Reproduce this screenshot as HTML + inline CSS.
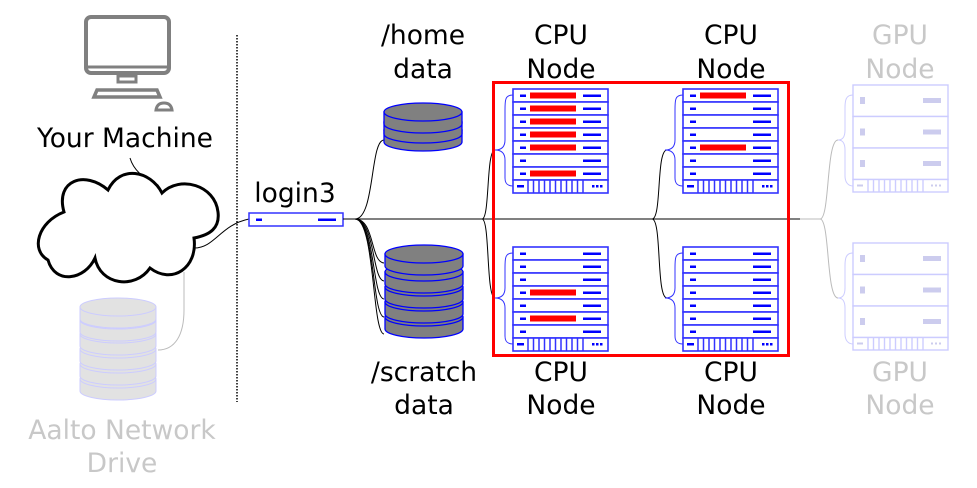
<!DOCTYPE html>
<html><head><meta charset="utf-8"><style>
html,body{margin:0;padding:0;background:#fff;}
svg{display:block;}
text{font-family:"DejaVu Sans","Liberation Sans",sans-serif;font-size:26.5px;text-anchor:middle;}
</style></head><body>
<svg width="977" height="488" viewBox="0 0 977 488" xmlns="http://www.w3.org/2000/svg">
<defs>
<g id="rack">
  <g fill="#fff" stroke="#3333ff" stroke-width="1.6">
  <rect x="0" y="0" width="95" height="13"/>
  <rect x="0" y="13" width="95" height="13"/>
  <rect x="0" y="26" width="95" height="13"/>
  <rect x="0" y="39" width="95" height="13"/>
  <rect x="0" y="52" width="95" height="13"/>
  <rect x="0" y="65" width="95" height="13"/>
  <rect x="0" y="78" width="95" height="13"/>
  <rect x="0" y="91" width="95" height="13"/>
  </g>
  <g fill="#00f">
    <rect x="7" y="5.5" width="6" height="2.5"/><rect x="70" y="5.5" width="18" height="2.5"/>
    <rect x="7" y="18.5" width="6" height="2.5"/><rect x="70" y="18.5" width="18" height="2.5"/>
    <rect x="7" y="31.5" width="6" height="2.5"/><rect x="70" y="31.5" width="18" height="2.5"/>
    <rect x="7" y="44.5" width="6" height="2.5"/><rect x="70" y="44.5" width="18" height="2.5"/>
    <rect x="7" y="57.5" width="6" height="2.5"/><rect x="70" y="57.5" width="18" height="2.5"/>
    <rect x="7" y="70.5" width="6" height="2.5"/><rect x="70" y="70.5" width="18" height="2.5"/>
    <rect x="7" y="83.5" width="6" height="2.5"/><rect x="70" y="83.5" width="18" height="2.5"/>
    <rect x="4" y="96" width="7" height="2.5"/>
    <rect x="79" y="96" width="2.5" height="2.5"/><rect x="83" y="96" width="2.5" height="2.5"/><rect x="87" y="96" width="2.5" height="2.5"/>
  </g>
  <g stroke="#3333ff" stroke-width="1.5">
    <line x1="15" y1="91" x2="15" y2="104"/><line x1="20.5" y1="91" x2="20.5" y2="104"/><line x1="26" y1="91" x2="26" y2="104"/>
    <line x1="31.5" y1="91" x2="31.5" y2="104"/><line x1="37" y1="91" x2="37" y2="104"/><line x1="42.5" y1="91" x2="42.5" y2="104"/>
    <line x1="48" y1="91" x2="48" y2="104"/><line x1="53.5" y1="91" x2="53.5" y2="104"/><line x1="59" y1="91" x2="59" y2="104"/>
    <line x1="64.5" y1="91" x2="64.5" y2="104"/><line x1="70" y1="91" x2="70" y2="104"/>
  </g>
</g>
<g id="gpurack" stroke="#ccccff" stroke-width="1.4">
  <rect x="0" y="0" width="95" height="31.5" fill="#fff"/>
  <rect x="0" y="31.5" width="95" height="31.5" fill="#fff"/>
  <rect x="0" y="63" width="95" height="31.5" fill="#fff"/>
  <rect x="0" y="94.5" width="95" height="12.5" fill="#fff"/>
  <g fill="#ccccee" stroke="none">
    <rect x="7" y="12" width="5" height="7"/><rect x="70" y="13" width="18" height="5"/>
    <rect x="7" y="43.5" width="5" height="7"/><rect x="70" y="44.5" width="18" height="5"/>
    <rect x="7" y="75" width="5" height="7"/><rect x="70" y="76" width="18" height="5"/>
    <rect x="4" y="99.5" width="6" height="2"/><rect x="78" y="99.5" width="2" height="2"/><rect x="82" y="99.5" width="2" height="2"/><rect x="86" y="99.5" width="2" height="2"/>
  </g>
  <g>
    <line x1="15" y1="94.5" x2="15" y2="107"/><line x1="20.5" y1="94.5" x2="20.5" y2="107"/><line x1="26" y1="94.5" x2="26" y2="107"/>
    <line x1="31.5" y1="94.5" x2="31.5" y2="107"/><line x1="37" y1="94.5" x2="37" y2="107"/><line x1="42.5" y1="94.5" x2="42.5" y2="107"/>
    <line x1="48" y1="94.5" x2="48" y2="107"/><line x1="53.5" y1="94.5" x2="53.5" y2="107"/><line x1="59" y1="94.5" x2="59" y2="107"/>
    <line x1="64.5" y1="94.5" x2="64.5" y2="107"/><line x1="70" y1="94.5" x2="70" y2="107"/>
  </g>
</g>
<g id="disk">
  <path d="M-39,0 L-39,12 A39,9 0 0 0 39,12 L39,0 Z" fill="#808080" stroke="#00f" stroke-width="1.3"/>
  <ellipse cx="0" cy="0" rx="39" ry="9" fill="#808080" stroke="#00f" stroke-width="1.3"/>
</g>
<g id="ldisk">
  <path d="M-38,0 L-38,12 A38,9 0 0 0 38,12 L38,0 Z" fill="#e2e2e2" stroke="#ccccff" stroke-width="1"/>
  <ellipse cx="0" cy="0" rx="38" ry="9" fill="#e2e2e2" stroke="#ccccff" stroke-width="1"/>
</g>
</defs>

<line x1="237" y1="35" x2="237" y2="402" stroke="#000" stroke-width="1.5" stroke-dasharray="1.5,1.5"/>

<g stroke="#808080" fill="none" stroke-width="4">
  <rect x="86" y="17" width="83" height="56" rx="5"/>
  <line x1="86" y1="67" x2="169" y2="67" stroke-width="3"/>
  <rect x="118" y="76" width="18" height="6" stroke-width="3"/>
  <path d="M94,97 L97,90 L157,90 L160,97 Z" stroke-width="3.5"/>
  <path d="M156,110 Q157,103 164,103 Q171,103 172,110 Z" stroke-width="3"/>
</g>
<text x="125" y="147">Your Machine</text>

<path d="M130,158 Q135,175 158,185 Q162,190 163,196" fill="none" stroke="#000" stroke-width="1"/>
<path d="M64,212 C55,180 85,170 108,190 C120,165 150,170 162,193 C180,175 215,185 218,212 C220,228 210,235 194,238 C198,268 172,285 150,268 C135,290 100,285 95,258 C85,280 55,285 48,260 C30,250 38,222 64,212 Z" fill="#fff" stroke="#000" stroke-width="3"/>
<path d="M194,248 C215,248 220,225 249,219" fill="none" stroke="#000" stroke-width="1"/>
<path d="M184,272 L184,310 C184,335 175,350 158,350" fill="none" stroke="#bbb" stroke-width="1"/>

<use href="#ldisk" x="118" y="379"/>
<use href="#ldisk" x="118" y="364"/>
<use href="#ldisk" x="118" y="349"/>
<use href="#ldisk" x="118" y="334"/>
<use href="#ldisk" x="118" y="320"/>
<use href="#ldisk" x="118" y="307"/>
<text x="122" y="439" fill="#c8c8c8">Aalto Network</text>
<text x="122" y="472" fill="#c8c8c8">Drive</text>

<text x="295" y="202">login3</text>
<rect x="249" y="213" width="94" height="13" fill="#fff" stroke="#3333ff" stroke-width="1.5"/>
<rect x="256" y="218.5" width="6" height="2.5" fill="#00f"/>
<rect x="318" y="218.5" width="18" height="2.5" fill="#00f"/>

<g fill="none" stroke="#000" stroke-width="1">
  <line x1="343" y1="219" x2="800" y2="219"/>
  <path d="M355,219 C375,219 370,140 384,140"/>
  <path d="M355,219 C375,219 370,262 384,263"/>
  <path d="M355,219 C375,219 372,280 384,281"/>
  <path d="M355,219 C375,219 372,298 384,299"/>
  <path d="M355,219 C375,219 372,316 384,317"/>
  <path d="M355,219 C375,219 372,333 384,334"/>
  <path d="M482,219 C490,219 486,150 495,150"/>
  <path d="M482,219 C490,219 486,298 495,298"/>
  <path d="M652,219 C662,219 656,150 667,150"/>
  <path d="M652,219 C662,219 656,298 667,298"/>
</g>
<g fill="none" stroke="#bbb" stroke-width="1">
  <path d="M800,219 L820,219 C830,219 826,140 838,140"/>
  <path d="M820,219 C830,219 826,298 838,298"/>
</g>

<use href="#disk" x="423" y="130"/>
<use href="#disk" x="423" y="122"/>
<use href="#disk" x="423" y="112"/>
<text x="423" y="44">/home</text>
<text x="423" y="78">data</text>

<use href="#disk" x="424" y="317"/>
<use href="#disk" x="424" y="302"/>
<use href="#disk" x="424" y="287"/>
<use href="#disk" x="424" y="272"/>
<use href="#disk" x="424" y="254"/>
<text x="424" y="381">/scratch</text>
<text x="424" y="414">data</text>

<use href="#rack" x="513" y="89"/>
<use href="#rack" x="683" y="89"/>
<use href="#rack" x="513" y="247"/>
<use href="#rack" x="683" y="247"/>
<g fill="#f00">
  <rect x="530" y="92.5" width="46" height="6"/>
  <rect x="530" y="105.5" width="46" height="6"/>
  <rect x="530" y="118.5" width="46" height="6"/>
  <rect x="530" y="131.5" width="46" height="6"/>
  <rect x="530" y="144.5" width="46" height="6"/>
  <rect x="530" y="170.5" width="46" height="6"/>
  <rect x="700" y="92.5" width="46" height="6"/>
  <rect x="700" y="144.5" width="46" height="6"/>
  <rect x="530" y="289.5" width="46" height="6"/>
  <rect x="530" y="315.5" width="46" height="6"/>
</g>
<g fill="none" stroke="#3333ff" stroke-width="1">
  <path d="M513,95 C505,95 505,100 505,110 L505,140 C505,148 500,150 495,150 C500,150 505,152 505,160 L505,178 C505,184 508,186 513,186"/>
  <path d="M683,95 C675,95 675,100 675,110 L675,140 C675,148 670,150 665,150 C670,150 675,152 675,160 L675,178 C675,184 678,186 683,186"/>
  <path d="M513,253 C505,253 505,258 505,268 L505,288 C505,296 500,298 495,298 C500,298 505,300 505,308 L505,336 C505,342 508,344 513,344"/>
  <path d="M683,253 C675,253 675,258 675,268 L675,288 C675,296 670,298 665,298 C670,298 675,300 675,308 L675,336 C675,342 678,344 683,344"/>
</g>
<rect x="493.5" y="82.5" width="295" height="273" fill="none" stroke="#f00" stroke-width="3"/>
<text x="561" y="44">CPU</text><text x="561" y="78">Node</text>
<text x="731" y="44">CPU</text><text x="731" y="78">Node</text>
<text x="561" y="381">CPU</text><text x="561" y="414">Node</text>
<text x="731" y="381">CPU</text><text x="731" y="414">Node</text>

<use href="#gpurack" x="853" y="85"/>
<use href="#gpurack" x="853" y="243"/>
<g fill="none" stroke="#ccccff" stroke-width="1">
  <path d="M853,95 C846,95 845,100 845,108 L845,130 C845,138 842,140 838,140 C842,140 845,142 845,150 L845,176 C845,182 848,186 853,186"/>
  <path d="M853,253 C846,253 845,258 845,266 L845,288 C845,296 842,298 838,298 C842,298 845,300 845,308 L845,334 C845,340 848,344 853,344"/>
</g>
<text x="900" y="44" fill="#c8c8c8">GPU</text><text x="900" y="78" fill="#c8c8c8">Node</text>
<text x="900" y="381" fill="#c8c8c8">GPU</text><text x="900" y="414" fill="#c8c8c8">Node</text>
</svg>
</body></html>
